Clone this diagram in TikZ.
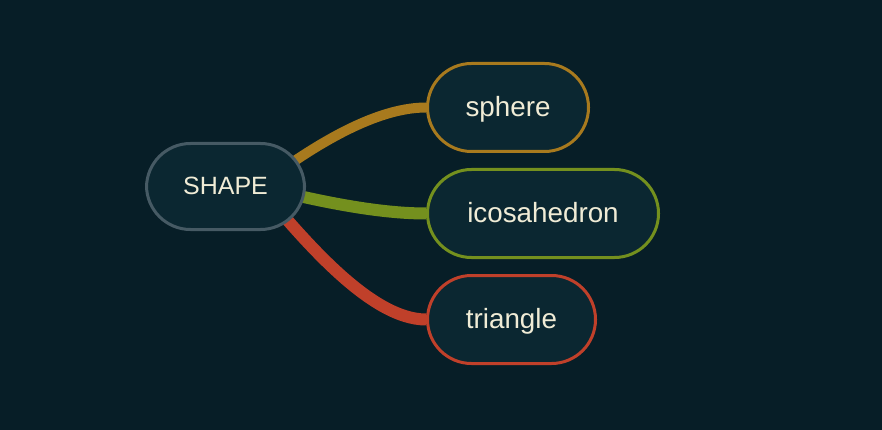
\documentclass[tikz,border=0pt]{standalone}
\usepackage{fontspec}
\setmainfont{Liberation Sans}
\usetikzlibrary{calc}
\definecolor{bgc}{HTML}{071E27}
\definecolor{nodefill}{HTML}{0B2731}
\definecolor{txt}{HTML}{F0ECD6}
\definecolor{rootb}{HTML}{465A64}
\definecolor{gold}{HTML}{A87A1E}
\definecolor{olive}{HTML}{74901E}
\definecolor{rust}{HTML}{C0402A}
\pgfdeclarelayer{bglayer}
\pgfdeclarelayer{edgelayer}
\pgfsetlayers{bglayer,edgelayer,main}
\begin{document}
\begin{tikzpicture}[x=1pt,y=-1pt,
  pill/.style={draw, line width=3pt, fill=nodefill, rounded corners=44pt, text=txt,
    inner sep=0pt, minimum height=88pt, text height=18.6pt, text depth=0pt,
    font=\fontsize{27.8}{32}\selectfont},
  rootnode/.style={pill, draw=rootb, minimum width=158pt, minimum height=86pt,
    text height=15.6pt, font=\fontsize{25}{30}\selectfont},
  link/.style={line cap=butt}]
\useasboundingbox (0,0) rectangle (882,430);
\begin{pgfonlayer}{bglayer}
  \fill[bgc] (0,0) rectangle (882,430);
\end{pgfonlayer}

\node[rootnode] (root) at (225.5,186.5) {SHAPE};
\node[pill, draw=gold, minimum width=161pt] (sphere) at (508,107.5) {sphere};
\node[pill, draw=olive, minimum width=231pt] (ico) at (543,213.5) {icosahedron};
\node[pill, draw=rust, minimum width=168pt] (tri) at (511.5,319.5) {triangle};

\begin{pgfonlayer}{edgelayer}
  \draw[link, gold, line width=10pt]
    ($(root.center)+(33,0)$) .. controls ($(root.center)+(75,-31)$) and ($(sphere.west)+(-57,0)$) .. (sphere.west);
  \draw[link, olive, line width=12pt]
    ($(root.center)+(33,0)$) .. controls ($(root.center)+(75,10)$) and ($(ico.west)+(-57,0)$) .. (ico.west);
  \draw[link, rust, line width=12pt]
    ($(root.center)+(33,0)$) .. controls ($(root.center)+(75,49)$) and ($(tri.west)+(-57,0)$) .. (tri.west);
\end{pgfonlayer}
\end{tikzpicture}
\end{document}
